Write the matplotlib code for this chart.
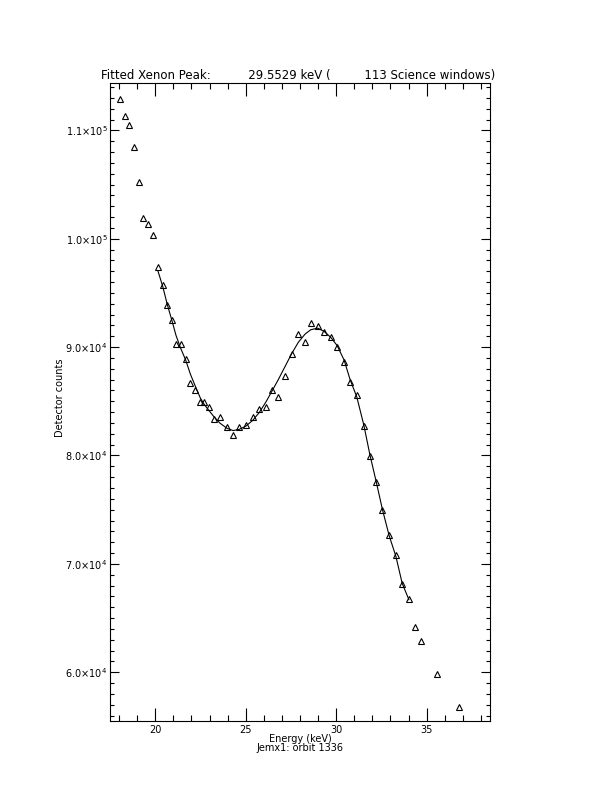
import matplotlib

matplotlib.use("Agg")
import matplotlib.pyplot as plt
from matplotlib.ticker import FuncFormatter, MultipleLocator

# measured spectrum (energy in keV, detector counts)
energy = [
    18.06, 18.31, 18.56, 18.82, 19.08, 19.34, 19.61, 19.87, 20.15, 20.41,
    20.65, 20.91, 21.14, 21.40, 21.68, 21.94, 22.21, 22.49, 22.71, 22.99,
    23.23, 23.56, 23.97, 24.30, 24.63, 25.00, 25.39, 25.74, 26.12, 26.47,
    26.80, 27.17, 27.54, 27.91, 28.28, 28.59, 28.98, 29.33, 29.70, 30.05,
    30.44, 30.77, 31.14, 31.53, 31.86, 32.21, 32.56, 32.93, 33.30, 33.65,
    34.02, 34.38, 34.71, 35.56, 36.81,
]
counts = [
    112900, 111320, 110490, 108460, 105230, 101910, 101390, 100370, 97400, 95730,
    93850, 92500, 90280, 90280, 88900, 86710, 86040, 84960, 84960, 84490,
    83360, 83570, 82650, 81880, 82650, 82800, 83570, 84250, 84470, 86040,
    85400, 87360, 89360, 91200, 90490, 92250, 91970, 91360, 90900, 89980,
    88650, 86800, 85570, 82740, 79960, 77540, 74990, 72650, 70780, 68130,
    66720, 64190, 62870, 59820, 56800,
]

# fitted model, evaluated on the fit range (20.15 .. 34.02 keV)
fit_energy = energy[8:51]
fit_counts = [
    97000, 95600, 94000, 92500, 91100, 89900, 88800, 87500, 86400, 85300,
    84700, 84100, 83600, 83000, 82500, 82300, 82400, 82700, 83250, 83950,
    84950, 86000, 87000, 88200, 89400, 90450, 91200, 91600, 91750, 91450,
    90900, 90150, 88800, 87000, 85400, 82800, 80100, 77600, 75000, 72600,
    70700, 68200, 66700,
]

peak_kev = 29.5529
n_windows = 113
title = f"Fitted Xenon Peak:{'':10}{peak_kev:.4f} keV ({'':9}{n_windows} Science windows)"


def sci_fmt(v, _pos):
    e = len(str(int(round(v)))) - 1
    return f"{v / 10**e:.1f}\u00d710$^{{{e}}}$"


fig = plt.figure(figsize=(6.12, 7.92), dpi=100)
ax = fig.add_axes([0.1802, 0.0893, 0.6209, 0.8055])

ax.plot(fit_energy, fit_counts, color="black", lw=0.8)
ax.plot(energy, counts, ls="none", marker="^", ms=5, mfc="none", mec="black", mew=0.8)

ax.set_xlim(17.51, 38.52)
ax.set_ylim(55475, 114340)
ax.xaxis.set_major_locator(MultipleLocator(5))
ax.xaxis.set_minor_locator(MultipleLocator(1))
ax.yaxis.set_major_locator(MultipleLocator(10000))
ax.yaxis.set_minor_locator(MultipleLocator(1000))
ax.yaxis.set_major_formatter(FuncFormatter(sci_fmt))

ax.tick_params(axis="both", which="both", direction="in", top=True, right=True,
               labelsize=7, width=0.8, color="black")
ax.tick_params(axis="x", which="major", length=9.1, pad=3)
ax.tick_params(axis="x", which="minor", length=4.5)
ax.tick_params(axis="y", which="major", length=6.5, pad=2)
ax.tick_params(axis="y", which="minor", length=3.2)
for sp in ax.spines.values():
    sp.set_linewidth(0.8)

fig.text(0.4865, 1 - 75 / 792, title, ha="center", va="center", fontsize=8.5)
fig.text(0.4902, 1 - 739 / 792, "Energy (keV)", ha="center", va="center", fontsize=7)
fig.text(0.4902, 1 - 748 / 792, "Jemx1: orbit 1336", ha="center", va="center", fontsize=7)
fig.text(60 / 612, 1 - 398 / 792, "Detector counts", ha="center", va="center",
         rotation=90, fontsize=7)

fig.savefig("out.png", dpi=100)
